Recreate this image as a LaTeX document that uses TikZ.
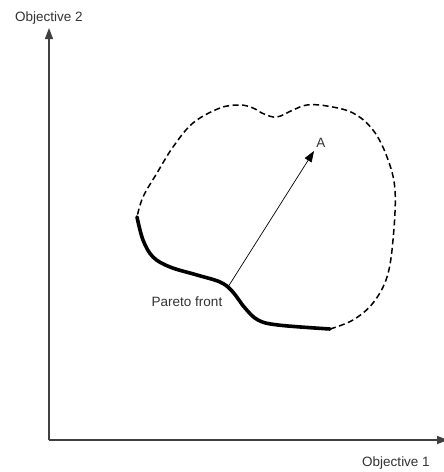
\documentclass[tikz,border=0pt]{standalone}
\usepackage{fontspec}
\setmainfont{Liberation Sans}
\usetikzlibrary{arrows.meta}
\begin{document}
\begin{tikzpicture}[x=1pt,y=-1pt,
  axis/.style={draw=black!75,line width=1.3pt},
  lbl/.style={font=\fontsize{13.5}{15}\selectfont,text=black!80,inner sep=0pt},
  front/.style={line width=3.6pt,line cap=round},
  region/.style={line width=1.5pt,dash pattern=on 6pt off 3.5pt},
  tip/.style={-{Triangle[length=11pt,width=8pt]}}]
\useasboundingbox (0,0) rectangle (444,472);
\clip (0,0) rectangle (444,472);
\fill[white] (0,0) rectangle (444,472);
% axes
\coordinate (O) at (49,440);
\coordinate (Ytop) at (49,28);
\coordinate (Xend) at (448,440);
\draw[axis,tip] (O) -- (Ytop);
\draw[axis,tip] (O) -- (Xend);
\node[lbl] (ylab) at (49,18) {Objective 2};
\node[lbl] (xlab) at (396,463) {Objective 1};
% feasible region boundary (dashed)
\draw[region] plot[smooth,tension=0.6] coordinates {(330,329) (353,320) (373,303) (387,277) (393,240) (395,190) (387,157) (373,130) (353,113) (327,106) (307,105) (293,110) (277,117) (264,114) (253,108) (240,105) (220,108) (193,123) (173,147) (157,173) (143,197) (137,217)};
% Pareto front (thick)
\draw[front] plot[smooth,tension=0.6] coordinates {(137,217) (143,240) (153,257) (170,267) (197,275) (220,282) (232,291) (245,308) (258,320) (278,325) (330,329)};
% arrow to A
\coordinate (P) at (228,287);
\coordinate (Atip) at (314,151);
\draw[line width=0.7pt,tip] (P) -- (Atip);
\node[lbl] (A) at (321,143) {A};
\node[lbl] (pf) at (187,302) {Pareto front};
\end{tikzpicture}
\end{document}
